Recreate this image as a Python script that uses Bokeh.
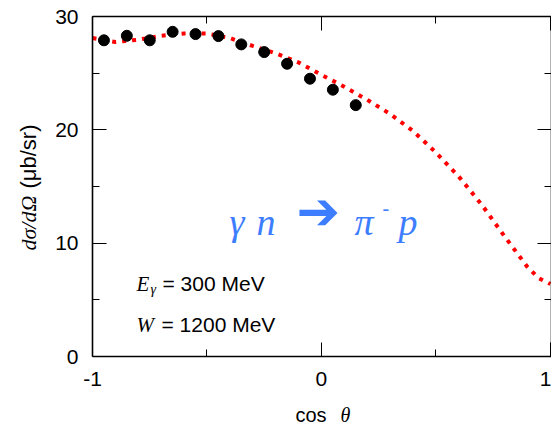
import math
from bokeh.plotting import figure
from bokeh.models import Range1d, FixedTicker, LinearAxis, Label
from bokeh.embed import file_html
from bokeh.resources import INLINE

# ---- data ----
pts_x = [-0.95, -0.85, -0.75, -0.65, -0.55, -0.45, -0.35, -0.25, -0.15, -0.05, 0.05, 0.15]
pts_y = [27.9, 28.3, 27.9, 28.65, 28.45, 28.27, 27.54, 26.86, 25.83, 24.51, 23.54, 22.18]

curve_x = [-1.0, -0.9, -0.8, -0.7, -0.6, -0.5, -0.4, -0.3, -0.2, -0.1, 0.0, 0.1, 0.2,
           0.3, 0.4, 0.5, 0.6, 0.7, 0.8, 0.9, 0.95, 1.0]
curve_y = [28.1, 27.75, 27.95, 28.3, 28.5, 28.5, 28.1, 27.4, 26.75, 25.95, 24.85, 23.8, 22.65,
           21.4, 19.9, 18.0, 15.88, 13.4, 10.6, 7.9, 6.9, 6.4]

x_major = [-1, 0, 1]
x_minor = [-0.5, 0.5]
x_labels = ["-1", "0", "1"]
y_major = [0, 10, 20, 30]
y_minor = [5, 15, 25]

# ---- layout: the frame covers the whole canvas; the axes are drawn at fixed places ----
W, H = 551, 425
BOX_L, BOX_T, BOX_B = 92, 16, 356      # pixel box of the data area
XMIN, XMAX, YMIN, YMAX = -1.0, 1.005, 0.0, 30.0
PXX = (W - BOX_L) / (XMAX - XMIN)
PXY = (BOX_B - BOX_T) / (YMAX - YMIN)
x_range = Range1d(XMIN - BOX_L / PXX, XMAX)
y_range = Range1d(YMIN - (H - BOX_B) / PXY, YMAX + BOX_T / PXY)

p = figure(width=W, height=H, x_range=x_range, y_range=y_range,
           output_backend="svg", toolbar_location=None,
           x_axis_location=None, y_axis_location=None, min_border=0)
p.grid.visible = False
p.outline_line_color = None
p.background_fill_color = "white"
p.border_fill_color = "white"

SANS = "Liberation Sans"
SERIF = "Liberation Serif"
FS = "21px"

def make_axis(place, fixed, bounds, major, minor, labels, standoff=14):
    ax = LinearAxis(fixed_location=fixed, bounds=bounds,
                    ticker=FixedTicker(ticks=major, minor_ticks=minor))
    ax.axis_line_color = "black"
    ax.axis_line_width = 1.6
    ax.major_tick_line_color = "black"
    ax.minor_tick_line_color = "black"
    ax.major_tick_in = 14
    ax.major_tick_out = 0
    ax.minor_tick_in = 7
    ax.minor_tick_out = 0
    ax.major_label_text_font = SANS
    ax.major_label_text_color = "black"
    ax.major_label_text_font_size = FS
    ax.major_label_standoff = standoff
    if labels is None:
        ax.major_label_overrides = {t: "" for t in major}
    elif labels is not True:
        ax.major_label_overrides = dict(zip(major, labels))
    p.add_layout(ax, place)
    return ax

make_axis("below", YMIN, (XMIN, XMAX), x_major, x_minor, x_labels, standoff=15)
make_axis("above", YMAX, (XMIN, XMAX), x_major, x_minor, None)
make_axis("left", XMIN, (YMIN, YMAX), y_major, y_minor, True, standoff=14)
make_axis("right", XMAX, (YMIN, YMAX), y_major, y_minor, None)

p.line(curve_x, curve_y, line_color="red", line_width=4, line_dash="4 6")
p.scatter(pts_x, pts_y, size=11, color="black")

# page pixel -> data helpers (positions measured on the reference)
def dx(px):
    return XMIN + (px - BOX_L) / PXX
def dy(py):
    return YMIN + (BOX_B - py) / PXY

def lab(px, py, text, font=SANS, size=FS, style="normal", color="black",
        align="left", baseline="alphabetic", angle=0):
    p.add_layout(Label(x=dx(px), y=dy(py), text=text, text_font=font,
                       text_font_size=size, text_font_style=style, text_color=color,
                       text_align=align, text_baseline=baseline, angle=angle))

# axis titles
lab(28, 250, "dσ/dΩ", font=SERIF, style="italic", size="22px", baseline="middle", angle=math.pi / 2)
lab(28, 188, "(μb/sr)", size="22px", baseline="middle", angle=math.pi / 2)
lab(295, 414, "cos", size="20px")
lab(340, 414, "θ", font=SERIF, style="italic", size="20px")

# energy annotations
lab(136, 283, "E", font=SERIF, style="italic", size="21px")
lab(150, 289, "γ", font=SERIF, style="italic", size="14px")
lab(162, 283, "= 300 MeV")
lab(136, 324, "W", font=SERIF, style="italic", size="21px")
lab(161, 324, "= 1200 MeV")

# reaction
BLUE = "#3d7dff"
RS = "38px"
lab(229, 221, "γ", font=SERIF, style="italic", size=RS, color=BLUE)
lab(256, 221, "n", font=SERIF, style="italic", size=RS, color=BLUE)
lab(296, 210, "➔", font="DejaVu Sans", size="52px", color=BLUE, baseline="middle")
lab(354, 221, "π", font=SERIF, style="italic", size=RS, color=BLUE)
lab(382, 207, "-", font=SERIF, size="20px", color=BLUE, baseline="middle")
lab(398, 221, "p", font=SERIF, style="italic", size=RS, color=BLUE)

open("out.html", "w").write(file_html(p, INLINE))
